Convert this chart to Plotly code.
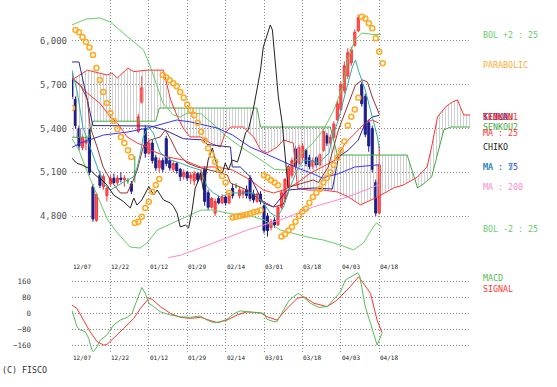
import plotly.graph_objects as go

# ---------------- data (x = trading-day index, 0 = 12/07) ----------------
tick_idx = [0, 11, 22, 33, 44, 55, 66, 77, 88]
tick_text = ["12/07", "12/22", "01/12", "01/29", "02/14", "03/01", "03/18", "04/03", "04/18"]
price_ticks = [4800, 5100, 5400, 5700, 6000]
macd_ticks = [-160, -80, 0, 80, 160]

opens = [5740, 5600, 5400, 5270, 5300, 5390, 5000, 4770, 5080, 5000, 4940, 5020, 5060, 5030, 5060, 5050,
         5040, 5020, 5100, 5380, 5580, 5400, 5230, 5300, 5200, 5130, 5180, 5330, 5180, 5120, 5160, 5120,
         5070, 5100, 5060, 5040, 5090, 5050, 5120, 4960, 4860, 4820, 4920, 4890, 4930, 4890, 4990, 5000,
         4940, 4950, 4980, 5060, 4950, 4900, 4950, 4870, 4800, 4720, 4770, 4740, 4860, 4920, 5000, 5080,
         5260, 5160, 5200, 5250, 5200, 5140, 5200, 5150, 5250, 5350, 5300, 5340, 5460, 5530, 5660, 5760,
         5850, 5970, 6070, 5700, 5620, 5440, 5400, 5030, 4820]
highs = [5780, 5620, 5420, 5360, 5340, 5400, 5020, 4960, 5110, 5090, 5000, 5080, 5090, 5080, 5100, 5080,
         5060, 5040, 5210, 5500, 5760, 5420, 5330, 5320, 5220, 5200, 5200, 5350, 5200, 5180, 5170, 5130,
         5120, 5110, 5100, 5110, 5100, 5120, 5140, 4980, 4930, 4920, 4940, 4950, 4940, 4960, 5020, 5026,
         5000, 4990, 5010, 5080, 4980, 4960, 4970, 4880, 4820, 4780, 4790, 4870, 4980, 5060, 5150, 5200,
         5280, 5290, 5300, 5260, 5220, 5200, 5210, 5230, 5400, 5370, 5360, 5450, 5590, 5720, 5860, 5950,
         5960, 6080, 6180, 5720, 5640, 5460, 5420, 5050, 5280]
lows = [5600, 5400, 5250, 5250, 5250, 5080, 4760, 4760, 4990, 4980, 4900, 5000, 5020, 5010, 5030, 5000,
        5020, 4950, 5030, 5370, 5570, 5200, 5220, 5160, 5110, 5100, 5100, 5140, 5110, 5100, 5090, 5040,
        5050, 5040, 5020, 5010, 5030, 5040, 4870, 4840, 4850, 4800, 4880, 4880, 4870, 4880, 4920, 4990,
        4920, 4920, 4920, 4900, 4890, 4890, 4880, 4680, 4660, 4700, 4720, 4730, 4850, 4900, 4990, 5060,
        5120, 5150, 5180, 5140, 5120, 5120, 5130, 5140, 5240, 5280, 5280, 5330, 5450, 5520, 5640, 5740,
        5830, 5960, 6060, 5550, 5340, 5240, 5100, 4800, 4810]
closes = [5620, 5420, 5280, 5340, 5320, 5100, 4780, 4950, 5010, 5070, 4990, 5060, 5030, 5060, 5050, 5060,
          5040, 4970, 5100, 5480, 5680, 5230, 5300, 5180, 5130, 5180, 5120, 5160, 5130, 5160, 5110, 5070,
          5100, 5060, 5080, 5090, 5050, 5100, 4900, 4860, 4920, 4900, 4890, 4930, 4890, 4940, 4940, 5000,
          4980, 4970, 4940, 4920, 4910, 4950, 4900, 4700, 4700, 4760, 4740, 4860, 4960, 5050, 5140, 5180,
          5140, 5270, 5280, 5160, 5140, 5180, 5150, 5220, 5380, 5300, 5340, 5430, 5570, 5700, 5830, 5920,
          5940, 6060, 6160, 5570, 5360, 5280, 5120, 4820, 5150]

bol_up_i = [0, 4, 8, 11, 16, 20.5, 22.5, 24.4, 26, 29, 31, 33, 37, 40, 44, 48, 52, 55, 58, 61, 63, 66, 69,
            72, 75, 77.5, 79, 81, 83, 86, 88.5]
bol_up_v = [6110, 6150, 6158, 6130, 6027, 5938, 5822, 5685, 5575, 5493, 5479, 5506, 5500, 5440, 5350, 5280,
            5220, 5170, 5120, 5115, 5150, 5232, 5300, 5390, 5527, 5685, 5870, 6007, 6055, 6045, 6045]
bol_dn_i = [0, 2, 4.5, 7.4, 10.2, 13, 16.6, 19.5, 21.5, 24.4, 31, 34, 37, 40.5, 45.5, 50.2, 55, 59.7, 62.6,
            67.4, 72, 76.9, 80.6, 83.5, 86.3, 87.2, 88.7]
bol_dn_v = [5330, 5250, 5095, 4930, 4773, 4684, 4588, 4580, 4615, 4704, 4773, 4807, 4841, 4841, 4815, 4807,
            4773, 4704, 4684, 4656, 4635, 4601, 4567, 4615, 4725, 4752, 4725]

s1_i = [0, 4.4, 10, 11.5, 13, 16, 17.6, 21.6, 26.2, 28.2, 30.2, 31.9, 33.8, 36.8, 39.6, 42.5, 43.9, 45.4,
        49.1, 52, 54, 55.9, 58.8, 60.6, 63.4, 64.6, 67.4, 72, 76, 79.2, 82.6, 87.5, 92.1, 95, 98.9, 101.7,
        103, 104.7, 107, 109, 110.4, 111.3, 112.2, 114]
s1_v = [5733, 5800, 5767, 5780, 5746, 5815, 5790, 5800, 5800, 5600, 5480, 5400, 5342, 5342, 5300, 5273, 5369,
        5410, 5410, 5342, 5253, 5232, 5273, 5321, 5300, 4990, 4978, 4978, 4965, 4930, 4876, 4930, 4992, 5013,
        5067, 5136, 5273, 5479, 5548, 5582, 5596, 5548, 5493, 5493]
s2_i = [0, 5, 6, 24, 25, 53, 54, 74, 76, 96, 99, 101, 103, 105, 106.5, 108.5, 114]
s2_v = [5340, 5340, 5450, 5450, 5540, 5540, 5410, 5410, 5218, 5218, 4992, 5026, 5067, 5253, 5390, 5410, 5410]

kijun_i = [0, 2, 2.5, 6, 22.5, 26.5, 31.9, 37.6, 38.7, 45.4, 45.9, 48.2, 51.1, 54.8, 57.7, 61.7, 65.3, 69.1,
           74.6, 76.3, 79.2, 82, 84, 86, 88]
kijun_v = [5856, 5856, 5800, 5420, 5417, 5390, 5330, 5321, 5290, 5273, 5136, 5136, 5067, 4889, 4862, 4978,
           4985, 4992, 4985, 5205, 5253, 5321, 5438, 5479, 5490]
tenkan_i = [0, 2.4, 4.4, 5.2, 7.2, 8.9, 11, 13.8, 15.8, 17.6, 18.7, 19.6, 20.4, 22.4, 25.3, 26.7, 28.2, 30.2,
            33, 35.9, 38.7, 41.6, 44.5, 45.4, 50.2, 53.9, 57.7, 60.5, 62.5, 66.3, 69.1, 70.6, 73.4, 76.3, 79.2,
            81.2, 83.2, 84.6, 86, 87.5, 88]
tenkan_v = [5740, 5700, 5600, 5410, 5273, 5136, 5047, 4958, 4958, 5047, 5115, 5205, 5273, 5321, 5342, 5390,
            5330, 5232, 5163, 5136, 5120, 5102, 5081, 5026, 4978, 4910, 4862, 4880, 5000, 5026, 5047, 5030,
            5136, 5390, 5575, 5698, 5733, 5719, 5616, 5527, 5500]
ma5_i = [0, 1.5, 3.1, 5.2, 7.2, 8.9, 11, 13.8, 15.8, 17.6, 18.7, 19.6, 20.4, 21.9, 23.3, 25.3, 28.2, 31, 33.9,
         36.8, 38.7, 40.5, 42.5, 45.4, 49.1, 52, 54.8, 56.8, 58.8, 60.6, 62.5, 64.5, 66.3, 68.3, 70.8, 73.6,
         74.6, 76.3, 78.3, 80.3, 81.2, 82, 84, 86, 87.5, 88]
ma5_v = [5800, 5650, 5410, 5273, 5136, 5026, 4978, 5020, 5047, 5067, 5136, 5232, 5342, 5410, 5369, 5232, 5184,
         5163, 5136, 5115, 5000, 4958, 4930, 4958, 4958, 4958, 4889, 4821, 4793, 4862, 5000, 5115, 5184, 5180,
         5163, 5232, 5342, 5458, 5643, 5822, 5870, 5800, 5664, 5479, 5342, 5260]
ma25_i = [0, 4.4, 8.1, 11, 13, 15.8, 18.7, 21.6, 22.4, 27.3, 31.9, 36.8, 41.6, 46, 51.1, 54.8, 57.7, 60.6,
          64.5, 68.3, 71.7, 75.4, 78.3, 81.2, 84, 86, 87.8]
ma25_v = [5750, 5643, 5570, 5479, 5438, 5342, 5300, 5273, 5253, 5205, 5184, 5136, 5136, 5115, 5047, 4978, 4958,
          4978, 5026, 5095, 5136, 5184, 5300, 5369, 5438, 5458, 5438]
ma75_i = [0, 2.4, 9, 16, 21.6, 26.5, 30, 34, 37.6, 41.6, 46, 51, 55, 59.7, 64.5, 69, 71.7, 76.3, 81, 87.5, 88]
ma75_v = [5270, 5300, 5355, 5376, 5403, 5435, 5458, 5445, 5424, 5403, 5355, 5273, 5232, 5184, 5130, 5090, 5060,
          5090, 5136, 5150, 5152]
ma200_i = [27.6, 31, 40.5, 50.2, 59.7, 69.1, 78.9, 86.3, 88]
ma200_v = [4515, 4530, 4615, 4704, 4773, 4862, 4930, 5000, 5015]

chiko_i = [0, 1.4, 2.9, 4.8, 5.7, 7.2, 8.1, 10, 11.9, 13.4, 14.8, 16.7, 17.7, 18.6, 20, 21.5, 22, 23.4, 24.4,
           26.2, 28.2, 29.1, 30.1, 31, 32.5, 33.4, 34.4, 35.3, 36.3, 36.8, 37.6, 39, 40.2, 41.1, 41.9, 43.1,
           43.9, 44.8, 45.9, 47.4, 48.2, 49.7, 50.5, 51.9, 53.1, 54, 54.8, 56.2, 56.8, 57.4, 58.3, 59.1, 60.2,
           61.1, 61.9]
chiko_v = [5196, 5161, 5150, 5127, 5104, 5070, 5058, 5013, 4944, 4923, 4898, 4855, 4923, 4875, 4910, 4978, 5001,
           4944, 4978, 4910, 4889, 4864, 4820, 4725, 4738, 4718, 4841, 4992, 5047, 5095, 4980, 5184, 5266, 5184,
           5115, 5095, 5163, 5115, 5184, 5170, 5232, 5370, 5390, 5527, 5685, 5800, 5959, 6075, 6110, 6075, 5822,
           5616, 5438, 5184, 4990]

sar_v = [5540, 6075, 6060, 6027, 5993, 5955, 5904, 5815, 5733, 5650, 5575, 5506, 5452, 5397, 5342, 5300, 5250,
         5205, 4752, 4761, 4795, 4855, 4898, 4967, 5013, 5054, 5767, 5750, 5730, 5710, 5690, 5650, 5610, 5565,
         5525, 5490, 5440, 5378, 5320, 5265, 5220, 5172, 5120, 5075, 5030, 4960, 4790, 4795, 4800, 4805, 4810,
         4815, 4825, 4830, 4840, 5080, 5065, 5045, 5030, 5010, 4660, 4675, 4700, 4725, 4760, 4800, 4830, 4850,
         4890, 4930, 4960, 4985, 5030, 5060, 5100, 5150, 5200, 5250, 5310, 5420, 5480, 5530, 5610, 6167, 6155,
         6121, 6087, 6018, 5927, 5847]

macd_i = [0, 1.4, 2.4, 3.8, 4.8, 5.7, 6.1, 7.2, 8.1, 10, 11.9, 13.8, 15.8, 17.2, 18.6, 20, 21, 22, 23.4, 25.3,
          28.2, 31, 33.9, 36.8, 38.7, 40.6, 42.5, 44.4, 46.3, 48.2, 50.1, 53, 54.9, 55.9, 57.8, 58.7, 60.6,
          62.1, 63.5, 64.9, 66.4, 68.3, 70.7, 73.1, 75, 76.9, 78.3, 80.2, 81.8, 82.4, 84, 85.5, 87.4, 88.8]
macd_v = [15, -67, -84, -93, -126, -185, -194, -168, -135, -109, -59, -34, -20, 0, 67, 131, 101, 51, 34, 8, -8,
          -17, -20, -13, -34, -47, -42, -30, -3, 13, 8, 3, 0, -30, -42, -42, 17, 64, 84, 101, 81, 51, 30, 34,
          71, 109, 168, 190, 205, 189, 34, -50, -160, -101]
signal_i = [0, 1.4, 3.3, 5.2, 7.2, 9.1, 10, 11.9, 14.8, 17.7, 19.6, 22, 23, 25.3, 28.2, 31, 33.9, 36.8, 39.7,
            41.6, 44.4, 47.3, 50.1, 54, 55.9, 58.7, 61.6, 64.5, 66.4, 69.3, 73.1, 75.9, 79.7, 82.1, 85.5, 87.4,
            88.8]
signal_v = [42, 25, -34, -93, -143, -160, -157, -126, -76, -25, 25, 76, 71, 34, 0, -20, -25, -20, -34, -47, -34,
            -8, 8, 3, -17, -34, 25, 76, 84, 51, 34, 67, 135, 185, 101, -34, -98]

legend_main = [("BOL +2 : 25", "#66cc66", 35), ("PARABOLIC", "#ffaa33", 65),
               ("TENKAN", "#993333", 117), ("KIJUN", "#3333aa", 117), ("SENKOU1", "#ff3333", 117),
               ("SENKOU2", "#44aa44", 127), ("MA : 25", "#ff3333", 133), ("CHIKO", "#222222", 147),
               ("MA : 75", "#3333ff", 167), ("MA : 5", "#33aaaa", 167), ("MA : 200", "#ff88cc", 187),
               ("BOL -2 : 25", "#66cc66", 229), ("MACD", "#55bb55", 278), ("SIGNAL", "#ff3333", 289)]

# ---------------- layout geometry ----------------
W, H = 557, 387
L, R, T, B = 72, 87, 0, 34
PW, PH = W - L - R, H - T - B
MONO = "DejaVu Sans Mono"


def py(p):
    return (PH - (p - T)) / PH


def px(p):
    return (p - L) / PW


fig = go.Figure()

# Ichimoku cloud
fig.add_trace(go.Scatter(x=s2_i, y=s2_v, mode="lines", line=dict(color="#44aa44", width=1),
                         xaxis="x", yaxis="y"))
fig.add_trace(go.Scatter(x=s1_i, y=s1_v, mode="lines", line=dict(color="#ff3333", width=1),
                         fill="tonexty", fillcolor="rgba(0,0,0,0)",
                         fillpattern=dict(shape="|", fgcolor="#b4b4b4", bgcolor="rgba(0,0,0,0)",
                                          size=3, solidity=0.3, fgopacity=0.7),
                         xaxis="x", yaxis="y"))

# candles
idx = list(range(len(closes)))
groups = [
    ([i for i in idx if closes[i] > opens[i]], "#ff3333", "#ff5555"),
    ([i for i in idx if closes[i] < opens[i]], "#1c1c8c", "#1c1c8c"),
    ([i for i in idx if closes[i] == opens[i]], "#33aa33", "#33aa33"),
]
for sel, lc, fc in groups:
    fig.add_trace(go.Candlestick(
        x=sel, open=[opens[i] for i in sel], high=[highs[i] for i in sel],
        low=[lows[i] for i in sel], close=[closes[i] for i in sel],
        increasing=dict(line=dict(color=lc, width=1), fillcolor=fc),
        decreasing=dict(line=dict(color=lc, width=1), fillcolor=fc),
        whiskerwidth=0, xaxis="x", yaxis="y"))

lines = [
    (bol_up_i, bol_up_v, "#66cc66"), (bol_dn_i, bol_dn_v, "#66cc66"),
    (ma200_i, ma200_v, "#ff88cc"), (ma75_i, ma75_v, "#3333ff"),
    (ma25_i, ma25_v, "#ff3333"), (kijun_i, kijun_v, "#2a2a99"),
    (tenkan_i, tenkan_v, "#993333"), (ma5_i, ma5_v, "#33aaaa"),
    (chiko_i, chiko_v, "#222222"),
]
for xs, ys, c in lines:
    fig.add_trace(go.Scatter(x=xs, y=ys, mode="lines", line=dict(color=c, width=1),
                             xaxis="x", yaxis="y"))

fig.add_trace(go.Scatter(x=list(range(len(sar_v))), y=sar_v, mode="markers",
                         marker=dict(symbol="circle-open", size=5, color="#ffaa22",
                                     line=dict(width=1.5, color="#ffaa22")),
                         xaxis="x", yaxis="y"))

# MACD panel
fig.add_trace(go.Scatter(x=signal_i, y=signal_v, mode="lines", line=dict(color="#ff3333", width=1),
                         xaxis="x2", yaxis="y2"))
fig.add_trace(go.Scatter(x=macd_i, y=macd_v, mode="lines", line=dict(color="#55bb55", width=1),
                         xaxis="x2", yaxis="y2"))

grid = dict(showgrid=True, gridcolor="#8c8c8c", griddash="1px,2px", gridwidth=1, zeroline=False,
            showline=False, ticks="")
fig.update_layout(
    width=W, height=H, margin=dict(l=L, r=R, t=T, b=B),
    paper_bgcolor="white", plot_bgcolor="white", showlegend=False,
    boxgap=0.15,
    xaxis=dict(range=[0, 114], domain=[0, 1], tickvals=tick_idx, showticklabels=False,
               rangeslider=dict(visible=False), anchor="y", **grid),
    yaxis=dict(range=[4512, 6281], domain=[py(258), 1], tickvals=price_ticks,
               ticktext=[f"{v:,}" for v in price_ticks], anchor="x",
               tickfont=dict(family=MONO, size=9, color="#555555"), ticklabelstandoff=4, **grid),
    xaxis2=dict(range=[0, 114], domain=[0, 1], tickvals=tick_idx, showticklabels=False,
                anchor="y2", **grid),
    yaxis2=dict(range=[-200, 219], domain=[0, py(270)], tickvals=macd_ticks, anchor="x2",
                tickfont=dict(family=MONO, size=7.5, color="#444444"), ticklabelstandoff=40, **grid),
)

ann = []
for t, lab in zip(tick_idx, tick_text):
    for yp in (266, 357.5):
        ann.append(dict(x=t, y=py(yp), xref="x", yref="paper", text=lab, showarrow=False,
                        xanchor="left", yanchor="middle", xshift=-1,
                        font=dict(family=MONO, size=6, color="#222222")))
for text, color, yp in legend_main:
    ann.append(dict(x=px(481), y=py(yp), xref="paper", yref="paper", text=text, showarrow=False,
                    xanchor="left", yanchor="middle", font=dict(family=MONO, size=8.3, color=color)))
ann.append(dict(x=px(0), y=py(370), xref="paper", yref="paper", text="(C) FISCO", showarrow=False,
                xanchor="left", yanchor="middle", font=dict(family=MONO, size=8.3, color="#333333")))
fig.update_layout(annotations=ann)

fig.write_html("out.html", config={"displayModeBar": False, "staticPlot": True},
               post_script="document.body.style.margin='0';document.body.style.padding='0';")
